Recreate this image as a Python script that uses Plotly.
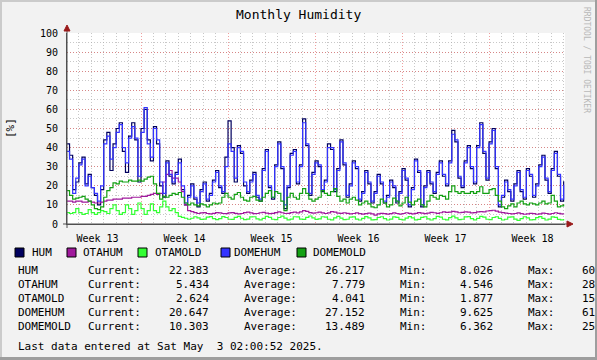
import pandas as pd
import plotly.graph_objects as go

TITLE = "Monthly Humidity"
START = "2025-03-24 00:00"
STEP = "6h"

HUM = [42, 36, 18, 22, 32, 35, 21, 26, 19, 15,
       10, 18, 44, 48, 28, 42, 50, 53, 38, 27,
       46, 53, 44, 22, 50, 60, 44, 33, 51, 42,
       20, 14, 33, 25, 21, 27, 34, 18, 10, 15,
       21, 13, 9, 18, 22, 12, 16, 23, 28, 19,
       16, 35, 54, 40, 22, 41, 37, 20, 16, 23,
       27, 14, 12, 29, 39, 19, 13, 31, 43, 29,
       8, 19, 37, 39, 21, 31, 55, 41, 15, 27,
       33, 30, 17, 23, 42, 39, 17, 29, 44, 31,
       14, 21, 33, 29, 12, 17, 28, 21, 11, 17,
       26, 21, 11, 15, 23, 19, 11, 17, 29, 23,
       9, 19, 34, 27, 9, 20, 28, 21, 16, 27,
       33, 25, 20, 33, 49, 43, 24, 19, 33, 41,
       29, 21, 41, 53, 37, 23, 43, 50, 29, 9,
       14, 23, 17, 12, 21, 28, 17, 13, 29, 25,
       14, 21, 31, 36, 23, 16, 29, 38, 25, 12,
       22.4]

OTAHUM = [12, 12, 11.5, 12, 12, 11.5, 11.5, 12, 11.5, 11,
          11, 11.5, 12, 12.5, 12.5, 13, 13, 13, 13.5, 13.5,
          13.5, 14, 14, 14, 14.5, 14.5, 15, 15.5, 16, 15.5,
          16, 22, 26, 28, 24, 24, 22, 17, 10, 7,
          6.5, 6, 5.5, 5.8, 6, 5.5, 5.3, 5.6, 6, 5.8,
          5.5, 5.4, 5.8, 6, 5.6, 5.3, 5.5, 6, 6.2, 5.8,
          5.4, 5.5, 5.9, 6.1, 5.7, 5.4, 5.6, 6, 6.3, 5.9,
          5.5, 5.6, 6, 6.2, 5.8, 6.3, 7, 6.6, 6, 5.7,
          5.9, 6.2, 5.8, 5.5, 5.8, 6.5, 6.2, 5.7, 5.6, 5.9,
          5.6, 5.3, 5.5, 5.8, 5.4, 5.2, 5.4, 5.7, 5.3, 4.6,
          5.3, 5.6, 5.4, 5.2, 5.4, 5.8, 5.5, 5.2, 5.5, 5.9,
          5.6, 5.3, 5.6, 6, 5.7, 5.4, 5.7, 6.1, 5.9, 5.6,
          5.9, 6.3, 6.1, 6.2, 6.6, 6.3, 5.9, 6.1, 6.4, 6.2,
          5.8, 6, 6.3, 6.5, 6.4, 6.8, 7, 7.2, 6.7, 6.2,
          6, 5.7, 5.5, 5.3, 5.5, 5.8, 5.4, 5.1, 5.3, 5.6,
          5.4, 5.1, 5.3, 5.7, 5.5, 5.2, 5.5, 5.9, 5.6, 5.3,
          5.434]

OTAMOLD = [6, 5.5, 6, 8, 6, 5, 5.5, 7.5, 6, 5,
           6, 7, 6.5, 5.5, 8, 10, 7, 5, 6, 10,
           8, 5, 7, 11, 8, 5, 7, 10.5, 7, 6,
           9, 12, 9, 7, 8, 6, 4, 3.5, 3, 2.5,
           3, 3.8, 3.2, 2.4, 2.6, 3.6, 3.9, 2.8, 2.3, 2.8,
           3.9, 3.4, 2.5, 2.4, 3.5, 4, 3, 2.3, 2.6, 3.7,
           3.8, 2.7, 2.2, 2.9, 4, 3.5, 2.5, 2.3, 3.4, 4.1,
           3.1, 2.2, 2.6, 3.8, 3.7, 2.6, 2.4, 3.5, 4.2, 3.2,
           2.4, 2.7, 3.8, 3.6, 2.5, 2.2, 3.2, 4, 3.1, 2.3,
           2.5, 3.6, 3.7, 2.6, 2.1, 2.9, 3.9, 3.2, 2.2, 2.3,
           3.4, 3.8, 2.8, 2.1, 2.6, 3.7, 3.5, 2.4, 2.2, 3.1,
           3.9, 3.2, 2.2, 2.4, 3.5, 3.8, 2.7, 2.1, 2.8, 4,
           3.6, 2.5, 2.2, 3.3, 4.1, 3.2, 2.3, 2.5, 3.7, 3.9,
           2.8, 2.2, 2.9, 4, 3.6, 2.5, 2.3, 3.4, 3.8, 2.9,
           2.1, 2.5, 3.6, 3.7, 2.6, 1.9, 2.8, 3.8, 3.2, 2.2,
           2.3, 3.3, 3.9, 2.9, 2.1, 2.6, 3.7, 3.5, 2.4, 2.2,
           2.624]

DOMEHUM = [38, 34, 16, 24, 31, 34, 20, 25, 19, 16,
           12, 20, 42, 46, 34, 40, 48, 52, 40, 32,
           45, 51, 45, 25, 48, 61, 42, 35, 50, 44,
           22, 16, 32, 26, 22, 26, 32, 20, 11, 14,
           20, 14, 11, 17, 21, 13, 15, 22, 27, 20,
           17, 30, 42, 38, 24, 40, 38, 22, 17, 22,
           26, 15, 13, 28, 38, 20, 14, 30, 42, 30,
           10, 20, 36, 38, 22, 30, 53, 42, 16, 26,
           32, 31, 18, 22, 40, 40, 18, 28, 43, 32,
           15, 20, 32, 30, 13, 16, 27, 22, 12, 16,
           25, 22, 12, 14, 22, 20, 12, 16, 28, 24,
           10, 18, 33, 28, 10, 19, 27, 22, 17, 26,
           32, 26, 21, 32, 47, 44, 25, 20, 32, 40,
           30, 22, 40, 52, 38, 24, 42, 49, 30, 10,
           15, 22, 18, 13, 20, 27, 18, 14, 28, 26,
           15, 20, 30, 35, 24, 17, 28, 37, 26, 13,
           20.6]

DOMEMOLD = [17.5, 15, 13, 13.5, 14, 14.5, 13, 12, 10, 8,
            7.5, 9, 14, 17.5, 19, 21.5, 21, 22.5, 22, 22,
            23, 22.5, 22.5, 23, 22.5, 23.5, 24.5, 25, 21, 16,
            13, 14.5, 14, 15, 16, 15.5, 16.5, 14, 11, 10,
            11, 10, 9.5, 10.5, 10, 9, 10, 11, 10.5, 11,
            14, 16, 14, 13, 15.5, 16.5, 14, 12.5, 12, 14,
            14.5, 12.5, 12, 14, 16, 17.5, 14, 17, 16, 12,
            7, 14, 16, 14, 13, 16, 18.5, 16, 13, 12,
            13, 14, 17.5, 16, 15, 17, 18.5, 14.5, 12, 13,
            11, 13, 14, 12.5, 10, 11, 12, 10.5, 9, 8.5,
            10, 13, 11, 9, 10, 13.5, 12, 9.5, 11, 14,
            11.5, 10, 12, 13, 10, 9, 12, 15, 14, 13,
            15, 14.5, 13, 17, 20, 17, 16, 17, 16, 16,
            17, 16, 17, 19.5, 16, 16, 18, 18.5, 15, 12,
            9, 8, 9.5, 10.5, 9, 11, 12, 10.5, 10, 11,
            10.5, 10, 11, 12, 10.5, 11, 15, 12, 9, 9.5,
            10.3]

SERIES_NAMES = ["HUM", "OTAHUM", "OTAMOLD", "DOMEHUM", "DOMEMOLD"]
SERIES_COLORS = ["#00005e", "#a0199c", "#33ff33", "#3333ff", "#13a013"]
CURRENT = ["22.383", "5.434", "2.624", "20.647", "10.303"]
AVERAGE = ["26.217", "7.779", "4.041", "27.152", "13.489"]
MINIMUM = ["8.026", "4.546", "1.877", "9.625", "6.362"]
MAXIMUM = ["60", "28", "15", "61", "25"]

WEEK_LABELS = ["Week 13", "Week 14", "Week 15", "Week 16", "Week 17", "Week 18"]
WEEK_CENTERS = ["2025-03-26 12:00", "2025-04-02 12:00", "2025-04-09 12:00",
                "2025-04-16 12:00", "2025-04-23 12:00", "2025-04-30 12:00"]
WEEK_BOUNDS = ["2025-03-30", "2025-04-06", "2025-04-13", "2025-04-20", "2025-04-27"]
X_RANGE = ["2025-03-24 01:06", "2025-05-03 02:38"]
Y_TICKS = list(range(0, 101, 10))
LAST_UPDATE = "Last data entered at Sat May  3 02:00:52 2025."

# ---------------------------------------------------------------- layout
W, H = 597, 360
L, R, T, B = 67, 565, 33, 224  # plot area in pixels
MONO = "DejaVu Sans Mono"
MAJOR_GRID = "rgba(226,80,80,0.55)"
MINOR_GRID = "rgba(170,170,170,0.65)"
AXIS_COL = "#505050"
ARROW_COL = "#9a1a1a"


def px(x):
    return (x - L) / (R - L)


def py(y):
    return (B - y) / (B - T)


series = dict(HUM=HUM, OTAHUM=OTAHUM, OTAMOLD=OTAMOLD, DOMEHUM=DOMEHUM, DOMEMOLD=DOMEMOLD)

fig = go.Figure()
for name, color in zip(SERIES_NAMES, SERIES_COLORS):
    vals = series[name]
    times = pd.date_range(START, periods=len(vals), freq=STEP)
    fig.add_trace(go.Scatter(x=times, y=vals, mode="lines", name=name,
                             line=dict(color=color, width=1.2, shape="hv"),
                             showlegend=False, hoverinfo="skip"))

days = pd.date_range("2025-03-24", "2025-05-03", freq="D")
daily = [d.strftime("%Y-%m-%d") for d in days if d.dayofweek != 6]
fig.add_trace(go.Scatter(x=[pd.Timestamp(START)], y=[None], xaxis="x2",
                         showlegend=False, hoverinfo="skip", mode="lines"))

fig.update_layout(
    width=W, height=H,
    margin=dict(l=L, r=W - R, t=T, b=H - B, pad=0),
    paper_bgcolor="#f2f2f2", plot_bgcolor="#ffffff",
    font=dict(family=MONO, size=10, color="#000000"),
    xaxis=dict(type="date", range=X_RANGE, tickmode="array",
               tickvals=WEEK_CENTERS, ticktext=WEEK_LABELS,
               showgrid=False, zeroline=False,
               ticks="outside", ticklen=5, tickcolor="rgba(0,0,0,0)",
               tickfont=dict(family=MONO, size=10),
               showline=True, linecolor=AXIS_COL, linewidth=1,
               minor=dict(tickmode="array", tickvals=WEEK_BOUNDS, showgrid=True,
                          gridcolor=MAJOR_GRID, griddash="1px,2px", gridwidth=1, ticks="")),
    xaxis2=dict(type="date", range=X_RANGE, overlaying="x", side="bottom",
                tickmode="array", tickvals=daily, showticklabels=False, ticks="",
                showgrid=True, gridcolor=MINOR_GRID, griddash="1px,2px", gridwidth=1,
                zeroline=False, showline=False),
    yaxis=dict(range=[0, 100], tickmode="array", tickvals=Y_TICKS,
               showgrid=True, gridcolor=MAJOR_GRID, griddash="1px,2px", gridwidth=1,
               zeroline=False, ticks="outside", ticklen=6, tickcolor="rgba(0,0,0,0)",
               tickfont=dict(family=MONO, size=10),
               showline=True, linecolor=AXIS_COL, linewidth=1,
               minor=dict(dtick=5, tick0=0, showgrid=True, gridcolor=MINOR_GRID,
                          griddash="1px,2px", gridwidth=1, ticks="")),
)

shapes = []
# frame
shapes.append(dict(type="line", xref="paper", yref="paper", x0=px(1), x1=px(1), y0=py(0), y1=py(H),
                   line=dict(color="#cbcbcb", width=2)))
shapes.append(dict(type="line", xref="paper", yref="paper", x0=px(0), x1=px(W), y0=py(1), y1=py(1),
                   line=dict(color="#cbcbcb", width=2)))
shapes.append(dict(type="line", xref="paper", yref="paper", x0=px(W - 1), x1=px(W - 1), y0=py(0), y1=py(H),
                   line=dict(color="#9e9e9e", width=2)))
shapes.append(dict(type="line", xref="paper", yref="paper", x0=px(0), x1=px(W), y0=py(H - 1.5), y1=py(H - 1.5),
                   line=dict(color="#9e9e9e", width=3)))
# axis extensions + arrows
shapes.append(dict(type="line", xref="paper", yref="paper", x0=px(L), x1=px(L), y0=py(B + 4), y1=py(28),
                   line=dict(color=AXIS_COL, width=1)))
shapes.append(dict(type="line", xref="paper", yref="paper", x0=px(L - 4), x1=px(569), y0=py(B), y1=py(B),
                   line=dict(color=AXIS_COL, width=1)))
shapes.append(dict(type="path", xref="paper", yref="paper",
                   path=f"M {px(L-3)} {py(31)} L {px(L+3)} {py(31)} L {px(L)} {py(25)} Z",
                   fillcolor=ARROW_COL, line=dict(color=ARROW_COL, width=1)))
shapes.append(dict(type="path", xref="paper", yref="paper",
                   path=f"M {px(567)} {py(B-3)} L {px(567)} {py(B+3)} L {px(573)} {py(B)} Z",
                   fillcolor=ARROW_COL, line=dict(color=ARROW_COL, width=1)))

annotations = []
annotations.append(dict(text=TITLE, xref="paper", yref="paper", x=px(298), y=py(14),
                        showarrow=False, xanchor="center", yanchor="middle",
                        font=dict(family=MONO, size=13, color="#000000")))
annotations.append(dict(text="[%]", xref="paper", yref="paper", x=px(10), y=py(128),
                        showarrow=False, textangle=-90, xanchor="center", yanchor="middle",
                        font=dict(family=MONO, size=11, color="#000000")))
annotations.append(dict(text="RRDTOOL / TOBI OETIKER", xref="paper", yref="paper", x=px(587), y=py(60),
                        showarrow=False, textangle=90, xanchor="center", yanchor="middle",
                        font=dict(family=MONO, size=8, color="#b8b8b8")))

# legend row
sq_x = [15, 67, 138, 221, 297]
lab_x = [30, 81, 153, 232, 311]
for name, color, sx, lx in zip(SERIES_NAMES, SERIES_COLORS, sq_x, lab_x):
    shapes.append(dict(type="rect", xref="paper", yref="paper",
                       x0=px(sx), x1=px(sx + 9), y0=py(257), y1=py(248),
                       fillcolor=color, line=dict(color="#000000", width=1)))
    annotations.append(dict(text=name, xref="paper", yref="paper", x=px(lx), y=py(252.5),
                            showarrow=False, xanchor="left", yanchor="middle",
                            font=dict(family=MONO, size=11, color="#000000")))

row_y = [270, 284, 298, 312, 326]
for k, name in enumerate(SERIES_NAMES):
    yy = py(row_y[k])
    items = [(name, 16, "left"), ("Current:", 86, "left"), (CURRENT[k], 211, "right"),
             ("Average:", 242, "left"), (AVERAGE[k], 367, "right"),
             ("Min:", 398, "left"), (MINIMUM[k], 495, "right"),
             ("Max:", 526, "left"), (MAXIMUM[k], 580, "left")]
    for txt, xx, anc in items:
        annotations.append(dict(text=txt, xref="paper", yref="paper", x=px(xx), y=yy,
                                showarrow=False, xanchor=anc, yanchor="middle",
                                font=dict(family=MONO, size=11, color="#000000")))
annotations.append(dict(text=LAST_UPDATE.replace("  ", "&nbsp; "), xref="paper", yref="paper",
                        x=px(16), y=py(346), showarrow=False, xanchor="left", yanchor="middle",
                        font=dict(family=MONO, size=11, color="#000000")))

fig.update_layout(shapes=shapes, annotations=annotations)

fig.write_html("out.html", config={"displayModeBar": False},
               post_script="document.body.style.margin='0';document.body.style.overflow='hidden';")
